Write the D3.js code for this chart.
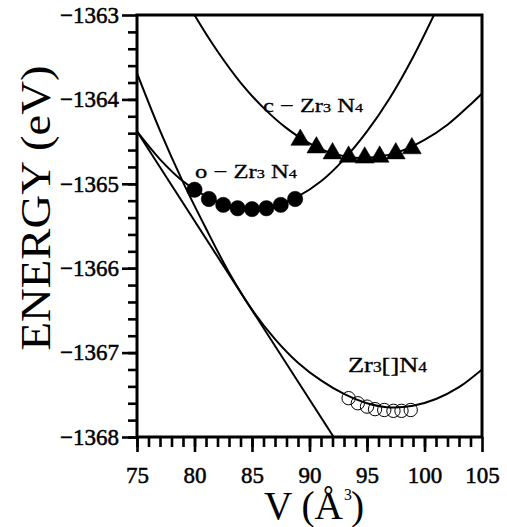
<!DOCTYPE html>
<html>
<head>
<meta charset="utf-8">
<script src="https://cdn.jsdelivr.net/npm/d3@7"></script>
<style>
body { margin: 0; background: #fff; }
svg { display: block; }
text { font-family: "Liberation Serif", "Times New Roman", serif; fill: #000; }
</style>
</head>
<body>
<div id="chart"></div>
<script>
// values: V in A^3, E in eV

// fitted E(V) curves
var cCurveV = [78, 80, 82, 84, 86, 88, 90, 92, 94, 96, 98, 100, 102, 104, 105];
var cCurveE = [-1362.51, -1363.00, -1363.43, -1363.80, -1364.10, -1364.34, -1364.52, -1364.64,
               -1364.69, -1364.68, -1364.61, -1364.48, -1364.30, -1364.06, -1363.93];

var oCurveV = [75, 77, 79, 81, 83, 85, 87, 89, 91, 93, 95, 97, 99, 101];
var oCurveE = [-1364.38, -1364.71, -1364.97, -1365.15, -1365.26, -1365.30, -1365.26, -1365.15,
               -1364.97, -1364.71, -1364.38, -1363.98, -1363.50, -1362.95];

var vacCurveV = [75, 77, 79, 81, 83, 85, 87, 89, 91, 93, 95, 97, 99, 101, 103, 105];
var vacCurveE = [-1363.69, -1364.37, -1364.98, -1365.53, -1366.05, -1366.49, -1366.84, -1367.12,
                 -1367.33, -1367.49, -1367.60, -1367.65, -1367.63, -1367.55, -1367.41, -1367.20];

// common tangent line
var tangentV = [75, 92.1];
var tangentE = [-1364.38, -1368.0];

// calculated points
var oPointsV = [80.0, 81.25, 82.5, 83.75, 85.0, 86.25, 87.5, 88.75];
var oPointsE = [-1365.07, -1365.18, -1365.25, -1365.29, -1365.30, -1365.29, -1365.25, -1365.18];

var cPointsV = [89.2, 90.6, 92.0, 93.4, 94.8, 96.1, 97.5, 98.9];
var cPointsE = [-1364.48, -1364.57, -1364.64, -1364.68, -1364.69, -1364.68, -1364.64, -1364.58];

var vacPointsV = [93.4, 94.2, 95.0, 95.7, 96.5, 97.3, 98.0, 98.8];
var vacPointsE = [-1367.54, -1367.60, -1367.64, -1367.67, -1367.68, -1367.69, -1367.69, -1367.68];

// axis ticks
var xMajor = [75, 80, 85, 90, 95, 100, 105];
var yMajor = [-1368, -1367, -1366, -1365, -1364, -1363];

var width = 507, height = 527;
var margin = {left: 137, top: 15, right: 25, bottom: 90};

var svg = d3.select('#chart').append('svg')
	.attr('width', width)
	.attr('height', height);

var x = d3.scaleLinear().domain([75, 105]).range([margin.left, width - margin.right]);
var y = d3.scaleLinear().domain([-1368, -1363]).range([height - margin.bottom, margin.top]);

function zip(vs, es) { return vs.map(function(v, i) { return [v, es[i]]; }); }

svg.append('clipPath').attr('id', 'plotclip')
	.append('rect')
	.attr('x', x(75)).attr('y', y(-1363))
	.attr('width', x(105) - x(75)).attr('height', y(-1368) - y(-1363));

var line = d3.line()
	.x(function(d) { return x(d[0]); })
	.y(function(d) { return y(d[1]); })
	.curve(d3.curveCatmullRom);

var curves = svg.append('g').attr('clip-path', 'url(#plotclip)');
[[cCurveV, cCurveE], [oCurveV, oCurveE], [vacCurveV, vacCurveE], [tangentV, tangentE]]
	.forEach(function(c) {
		curves.append('path')
			.datum(zip(c[0], c[1]))
			.attr('d', line)
			.attr('fill', 'none')
			.attr('stroke', '#000')
			.attr('stroke-width', 2);
	});

// markers
function markers(data, type, size, filled) {
	svg.append('g').selectAll('path')
		.data(data)
		.enter()
		.append('path')
		.attr('transform', function(d) { return 'translate(' + x(d[0]) + ',' + y(d[1]) + ')'; })
		.attr('d', d3.symbol().type(type).size(size))
		.attr('fill', filled ? '#000' : 'none')
		.attr('stroke', '#000')
		.attr('stroke-width', filled ? 0.5 : 1);
}
markers(zip(oPointsV, oPointsE), d3.symbolCircle, 185, true);
markers(zip(cPointsV, cPointsE), d3.symbolTriangle, 155, true);
markers(zip(vacPointsV, vacPointsE), d3.symbolCircle, 140, false);

// axes
svg.append('g')
	.attr('transform', 'translate(' + margin.left + ',0)')
	.call(d3.axisLeft(y).tickValues(yMajor).tickSize(15).tickPadding(3).tickFormat(d3.format('d')));
svg.append('g')
	.attr('transform', 'translate(' + margin.left + ',0)')
	.call(d3.axisLeft(y).tickValues(d3.range(-1368, -1363, 0.2)).tickSize(9).tickFormat(''));

svg.append('g')
	.attr('transform', 'translate(0,' + (height - margin.bottom) + ')')
	.call(d3.axisBottom(x).tickValues(xMajor).tickSize(15).tickPadding(15).tickFormat(d3.format('d')));
svg.append('g')
	.attr('transform', 'translate(0,' + (height - margin.bottom) + ')')
	.call(d3.axisBottom(x).tickValues(d3.range(75, 105, 1)).tickSize(10).tickFormat(''));

svg.selectAll('.domain').remove();
svg.selectAll('.tick line').attr('stroke', '#000').attr('stroke-width', 2.6);
svg.selectAll('.tick text')
	.attr('font-family', '"Liberation Serif", serif')
	.attr('font-size', 23)
	.attr('fill', '#000')
	.attr('stroke', '#000')
	.attr('stroke-width', 0.5);

// frame
svg.append('rect')
	.attr('x', x(75)).attr('y', y(-1363))
	.attr('width', x(105) - x(75)).attr('height', y(-1368) - y(-1363))
	.attr('fill', 'none')
	.attr('stroke', '#000')
	.attr('stroke-width', 3);

// stretch a text element horizontally to a given width
function fitWidth(t, tx, ty, w, rot) {
	var n = t.node().getComputedTextLength();
	t.attr('transform', 'translate(' + tx + ',' + ty + ')' + (rot ? ' rotate(' + rot + ')' : '') +
		' scale(' + (w / n) + ',1)');
}

// curve labels, parts: [text, subscript?]
function formula(parts, tx, ty, w, fs) {
	var t = svg.append('text').attr('font-size', fs)
		.attr('stroke', '#000').attr('stroke-width', 0.3);
	parts.forEach(function(p) {
		t.append('tspan')
			.attr('font-size', p[1] ? fs * 0.66 : fs)
			.text(p[0]);
	});
	fitWidth(t, tx, ty, w);
}
formula([['c \u2212 ', 0], ['Zr', 0], ['3', 1], [' N', 0], ['4', 1]], 263, 112, 100, 19);
formula([['o \u2212 ', 0], ['Zr', 0], ['3', 1], [' N', 0], ['4', 1]], 195, 178, 102, 19);
formula([['Zr', 0], ['3', 1], ['[]N', 0], ['4', 1]], 348, 372, 79, 21);

// axis titles
var yt = svg.append('text')
	.attr('font-size', 42)
	.attr('text-anchor', 'middle')
	.text('ENERGY (eV)');
fitWidth(yt, 50, 208, 285, -90);

var xt = svg.append('text').attr('font-size', 40);
xt.append('tspan').text('V (\u00c5');
xt.append('tspan').attr('font-size', 16).attr('dx', 1).attr('dy', -19).text('3');
xt.append('tspan').attr('dx', -1).attr('dy', 19).text(')');
fitWidth(xt, 264, 519, 100);
</script>
</body>
</html>
